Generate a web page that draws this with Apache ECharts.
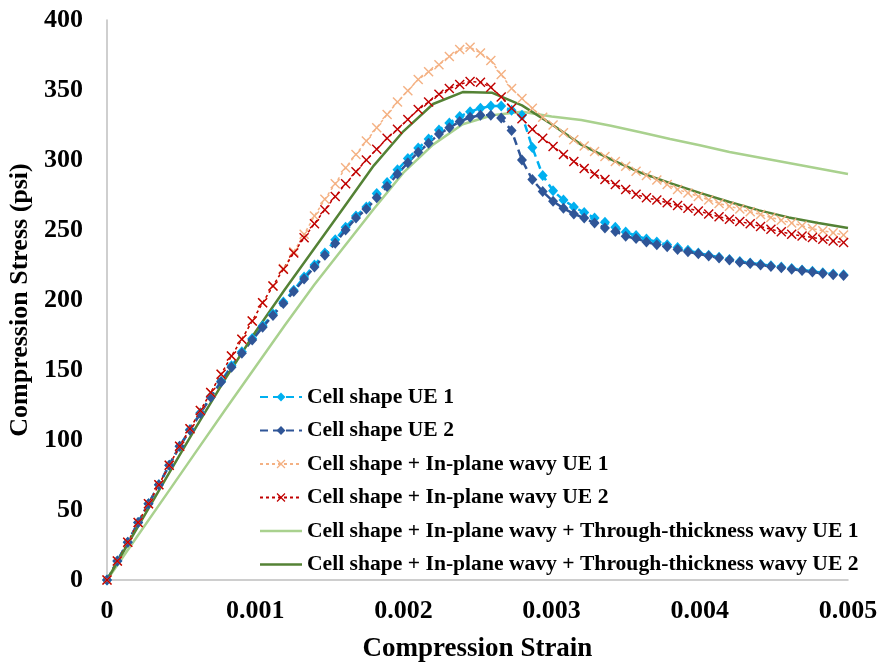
<!DOCTYPE html>
<html>
<head>
    <meta charset="UTF-8">
    <script src="https://cdn.jsdelivr.net/npm/echarts@6/dist/echarts.min.js"></script>
    <style>
        html, body { margin: 0; padding: 0; background: #fff; }
        #container { width: 881px; height: 664px; }
    </style>
</head>
<body>
<div id="container"></div>
<script type="text/javascript">
    // strain samples for the marker series
    var strain = [0, 0.00007, 0.00014, 0.00021, 0.00028, 0.00035, 0.00042, 0.00049, 0.00056, 0.00063,
        0.0007, 0.00077, 0.00084, 0.00091, 0.00098, 0.00105, 0.00112, 0.00119, 0.00126, 0.00133,
        0.0014, 0.00147, 0.00154, 0.00161, 0.00168, 0.00175, 0.00182, 0.00189, 0.00196, 0.00203,
        0.0021, 0.00217, 0.00224, 0.00231, 0.00238, 0.00245, 0.00252, 0.00259, 0.00266, 0.00273,
        0.0028, 0.00287, 0.00294, 0.00301, 0.00308, 0.00315, 0.00322, 0.00329, 0.00336, 0.00343,
        0.0035, 0.00357, 0.00364, 0.00371, 0.00378, 0.00385, 0.00392, 0.00399, 0.00406, 0.00413,
        0.0042, 0.00427, 0.00434, 0.00441, 0.00448, 0.00455, 0.00462, 0.00469, 0.00476, 0.00483,
        0.0049, 0.00497];

    // Cell shape UE 1
    var cellUE1 = [0, 13.6, 27, 41, 54.5, 68, 82, 95.5, 107.5, 119.5,
        131, 142, 153, 163, 172.5, 181.5, 190, 198.5, 207, 216.5,
        225, 233.5, 243, 252, 260, 266.5, 276, 284, 293, 301,
        308.5, 315, 321.5, 326.5, 331, 334.5, 337, 338.5, 338.5, 335.5,
        332, 309, 289, 278, 271.5, 266.5, 262.5, 258.5, 255.5, 252,
        248.5, 246, 243.5, 241.5, 239.5, 237.5, 235.5, 233.5, 232, 230.5,
        229, 227.5, 226.5, 225.5, 224.5, 223.5, 222.5, 221.5, 220.5, 219.5,
        218.5, 218];

    // Cell shape UE 2
    var cellUE2 = [0, 13.6, 27, 41, 54.5, 68, 82, 95.5, 107, 119,
        130.5, 141.5, 152, 162, 171.5, 180.5, 189, 197.5, 206, 215,
        223.5, 232, 240.5, 250, 258.5, 265, 273, 281, 290, 298,
        305.5, 312, 318.5, 323, 327.5, 330.5, 332, 332, 330, 321,
        300, 286, 277.5, 270.5, 265.5, 261.5, 258.5, 255, 251.5, 249,
        245.5, 244, 241.5, 239.5, 238, 236, 234.5, 233, 231.5, 230,
        228.5, 227, 226, 225, 224, 223, 222, 221, 220, 219,
        218, 217.5];

    // Cell shape + In-plane wavy UE 1
    var inPlaneUE1 = [0, 13.6, 27, 41, 54.5, 68, 82, 95.5, 108, 121,
        134, 147, 160, 172, 185, 198, 210, 222.5, 234.5, 247,
        260, 272, 283, 294.5, 304, 313.5, 323, 332.5, 341.5, 349.5,
        357.5, 363, 368, 374, 379, 380.5, 376.5, 371, 361, 351,
        344, 337, 330.5, 325, 319.5, 314.5, 310, 306, 302.5, 299,
        295.5, 292, 289, 285.8, 282.5, 279, 276.5, 274, 271.5, 269,
        267, 265, 263, 261, 259, 257, 255, 253, 251, 249.5,
        248, 246.5];

    // Cell shape + In-plane wavy UE 2
    var inPlaneUE2 = [0, 13.6, 27, 41, 54.5, 68, 82, 95.5, 108, 121,
        134, 147, 160, 172, 185, 198, 210, 222, 233.5, 244.5,
        254.5, 264.5, 274, 283, 291.6, 300, 307.7, 315.5, 322, 329,
        336, 341.5, 347, 351, 354, 356, 355.5, 352, 345, 337,
        329.5, 322, 315.5, 309.6, 304, 299, 294, 290, 286, 282.5,
        279, 275.5, 273, 271.5, 269.5, 267.5, 265.5, 263.5, 261.5, 259.5,
        257.7, 256, 254.5, 252.5, 250.5, 248.7, 247, 245.8, 244.6, 243.4,
        242.2, 241];

    // strain samples for the two solid lines
    var lineStrain = [0, 0.0002, 0.0004, 0.0006, 0.0008, 0.001, 0.0012, 0.0014, 0.0016, 0.0018,
        0.002, 0.0022, 0.0024, 0.0026, 0.0028, 0.003, 0.0032, 0.0034, 0.0036, 0.0038,
        0.004, 0.0042, 0.0044, 0.0046, 0.0048, 0.005];

    // Cell shape + In-plane wavy + Through-thickness wavy UE 1
    var throughUE1 = [0, 30.5, 61, 91.5, 122, 152, 182, 211, 238, 265,
        291, 311, 325.5, 332, 334.5, 331, 328.5, 324.5, 319.8, 315,
        310.5, 305.7, 301.8, 297.9, 294, 290];

    // Cell shape + In-plane wavy + Through-thickness wavy UE 2
    var throughUE2 = [0, 36.5, 73, 109, 144, 177, 207.5, 237, 266.5, 296,
        320.5, 340, 348.5, 348, 339, 325.5, 311, 300.5, 291, 283.5,
        276.5, 270, 264, 259, 255, 251.5];

    var seriesNames = [
        'Cell shape UE 1',
        'Cell shape UE 2',
        'Cell shape + In-plane wavy UE 1',
        'Cell shape + In-plane wavy UE 2',
        'Cell shape + In-plane wavy + Through-thickness wavy UE 1',
        'Cell shape + In-plane wavy + Through-thickness wavy UE 2'
    ];

    function pairs(xs, ys) {
        return xs.map(function (x, i) { return [x, ys[i]]; });
    }

    var cross = 'path://M0,1L1,0L5,4L9,0L10,1L6,5L10,9L9,10L5,6L1,10L0,9L4,5Z';
    var bar = 'path://M0,0H42V2.6H0Z';
    var serif = "'Liberation Serif', 'Times New Roman', serif";

    var dom = document.getElementById('container');
    var myChart = echarts.init(dom, null, { renderer: 'canvas' });

    var option = {
        animation: false,
        backgroundColor: '#fff',
        textStyle: { fontFamily: serif },
        grid: { left: 107, right: 33, top: 20, bottom: 84, outerBoundsMode: 'none' },
        legend: {
            orient: 'vertical',
            left: 254,
            top: 381,
            itemWidth: 42,
            itemHeight: 11,
            itemGap: 11.5,
            textStyle: { fontFamily: serif, fontWeight: 'bold', fontSize: 21.6, color: '#000' },
            data: [
                seriesNames[0],
                seriesNames[1],
                seriesNames[2],
                seriesNames[3],
                { name: seriesNames[4], icon: bar },
                { name: seriesNames[5], icon: bar }
            ]
        },
        xAxis: {
            type: 'value',
            min: 0,
            max: 0.005,
            interval: 0.001,
            name: 'Compression Strain',
            nameLocation: 'middle',
            nameGap: 56,
            nameTextStyle: { fontFamily: serif, fontWeight: 'bold', fontSize: 27, color: '#000' },
            axisLine: { lineStyle: { color: '#BFBFBF', width: 1.5 } },
            axisTick: { show: false },
            splitLine: { show: false },
            axisLabel: {
                margin: 18,
                fontFamily: serif,
                fontWeight: 'bold',
                fontSize: 26,
                color: '#000',
                formatter: function (v) {
                    return v === 0 ? '0' : v.toFixed(3);
                }
            }
        },
        yAxis: {
            type: 'value',
            min: 0,
            max: 400,
            interval: 50,
            name: 'Compression Stress (psi)',
            nameLocation: 'middle',
            nameGap: 73,
            nameTextStyle: { fontFamily: serif, fontWeight: 'bold', fontSize: 26, color: '#000' },
            axisLine: { show: true, lineStyle: { color: '#BFBFBF', width: 1.5 } },
            axisTick: { show: false },
            splitLine: { show: false },
            axisLabel: {
                margin: 24,
                fontFamily: serif,
                fontWeight: 'bold',
                fontSize: 26,
                color: '#000'
            }
        },
        series: [
            {
                name: seriesNames[0],
                type: 'line',
                data: pairs(strain, cellUE1),
                symbol: 'diamond',
                symbolSize: [10, 11],
                itemStyle: { color: '#00B0F0' },
                lineStyle: { color: '#00B0F0', width: 2.5, type: [8, 5] }
            },
            {
                name: seriesNames[1],
                type: 'line',
                data: pairs(strain, cellUE2),
                symbol: 'diamond',
                symbolSize: [10, 11],
                itemStyle: { color: '#2F5597' },
                lineStyle: { color: '#2F5597', width: 2.5, type: [8, 5] }
            },
            {
                name: seriesNames[2],
                type: 'line',
                data: pairs(strain, inPlaneUE1),
                symbol: cross,
                symbolSize: 10,
                itemStyle: { color: '#F4B183' },
                lineStyle: { color: '#F4B183', width: 1.5, type: [3, 3] }
            },
            {
                name: seriesNames[3],
                type: 'line',
                data: pairs(strain, inPlaneUE2),
                symbol: cross,
                symbolSize: 10,
                itemStyle: { color: '#C00000' },
                lineStyle: { color: '#C00000', width: 1.5, type: [3, 3] }
            },
            {
                name: seriesNames[4],
                type: 'line',
                data: pairs(lineStrain, throughUE1),
                symbol: 'none',
                itemStyle: { color: '#A9D18E' },
                lineStyle: { color: '#A9D18E', width: 2.5 }
            },
            {
                name: seriesNames[5],
                type: 'line',
                data: pairs(lineStrain, throughUE2),
                symbol: 'none',
                itemStyle: { color: '#548235' },
                lineStyle: { color: '#548235', width: 2.5 }
            }
        ]
    };

    myChart.setOption(option);
    window.addEventListener('resize', myChart.resize);
</script>
</body>
</html>
